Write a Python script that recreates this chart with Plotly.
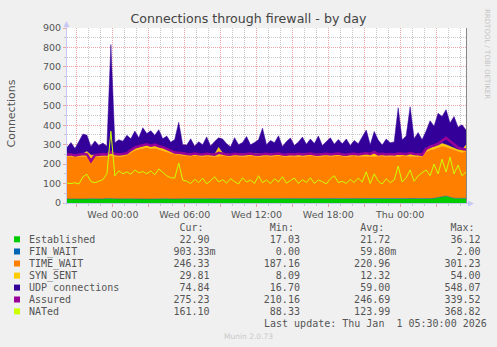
import plotly.graph_objects as go
import pandas as pd

# ---------------- data ----------------
times = pd.date_range("2025-12-30 20:10", periods=101, freq="20min")

established = [21, 22, 21, 20, 22, 21, 22, 21, 22, 21,
               23, 24, 22, 21, 22, 21, 22, 21, 22, 21,
               20, 21, 22, 21, 21, 22, 21, 20, 21, 22,
               21, 21, 22, 21, 20, 21, 22, 21, 21, 20,
               21, 22, 21, 21, 22, 21, 20, 21, 21, 22,
               21, 20, 21, 22, 21, 21, 20, 21, 22, 21,
               21, 22, 21, 20, 21, 22, 21, 21, 20, 21,
               22, 21, 21, 22, 21, 20, 21, 22, 21, 21,
               22, 21, 20, 21, 22, 21, 22, 23, 22, 21,
               22, 23, 24, 27, 33, 36, 30, 25, 24, 23,
               23]

fin_wait = [0, 0, 0, 0, 0, 0, 0, 0, 0, 0,
            0, 0, 0, 0, 0, 0, 0, 0, 0, 0,
            0, 0, 0, 0, 0, 0, 0, 0, 0, 0,
            1, 0, 0, 0, 0, 0, 0, 0, 0, 0,
            0, 0, 0, 0, 0, 0, 0, 0, 0, 0,
            0, 0, 0, 0, 0, 2, 0, 0, 0, 0,
            0, 0, 0, 0, 0, 0, 0, 0, 0, 0,
            0, 0, 0, 0, 0, 0, 0, 0, 0, 0,
            1, 0, 0, 0, 0, 0, 0, 0, 0, 0,
            0, 0, 0, 0, 0, 0, 0, 0, 0, 0,
            1]

time_wait = [217, 218, 215, 219, 219, 214, 210, 215, 216, 219,
             216, 218, 218, 217, 219, 223, 236, 249, 254, 259,
             264, 257, 260, 254, 249, 240, 234, 230, 225, 222,
             220, 219, 221, 220, 219, 221, 218, 217, 220, 223,
             219, 216, 221, 219, 217, 220, 223, 219, 217, 218,
             221, 219, 220, 221, 219, 215, 221, 219, 220, 218,
             220, 221, 219, 218, 219, 220, 218, 220, 223, 219,
             216, 220, 221, 217, 219, 223, 220, 216, 219, 221,
             216, 220, 220, 217, 220, 219, 217, 218, 218, 217,
             240, 249, 252, 257, 259, 252, 250, 247, 238, 235,
             244]

syn_sent = [12, 11, 12, 13, 12, 30, 14, 11, 12, 13,
            12, 25, 13, 12, 11, 12, 13, 12, 11, 12,
            13, 12, 11, 12, 13, 12, 14, 12, 11, 12,
            13, 12, 11, 12, 10, 12, 13, 12, 45, 14,
            12, 11, 12, 13, 12, 11, 12, 13, 12, 11,
            12, 13, 12, 11, 9, 12, 13, 12, 11, 12,
            13, 12, 11, 12, 13, 12, 11, 12, 13, 12,
            11, 12, 13, 12, 11, 12, 13, 28, 12, 11,
            12, 13, 12, 11, 12, 13, 12, 11, 12, 13,
            12, 11, 13, 12, 14, 12, 11, 13, 12, 14,
            30]

udp = [35, 60, 32, 68, 102, 83, 44, 72, 46, 55,
       41, 548, 57, 75, 66, 92, 59, 88, 48, 95,
       60, 82, 55, 90, 47, 70, 43, 64, 158, 44,
       43, 78, 38, 62, 51, 86, 40, 66, 49, 72,
       53, 40, 82, 47, 60, 90, 44, 58, 75, 134,
       46, 70, 57, 92, 42, 66, 80, 44, 61, 88,
       48, 74, 55, 95, 43, 62, 85, 49, 70, 53,
       80, 43, 67, 54, 88, 120, 46, 102, 72, 45,
       78, 56, 62, 241, 70, 92, 244, 78, 110, 74,
       96, 140, 106, 165, 139, 180, 120, 160, 116, 130,
       77]

assured = [248, 250, 245, 249, 252, 250, 215, 246, 249, 251,
           250, 262, 252, 249, 252, 256, 272, 285, 292, 298,
           302, 295, 300, 292, 287, 278, 268, 260, 258, 254,
           252, 250, 254, 251, 249, 253, 250, 248, 258, 253,
           250, 248, 253, 251, 249, 252, 254, 250, 248, 251,
           253, 249, 252, 254, 250, 248, 252, 250, 253, 249,
           252, 254, 250, 248, 251, 253, 249, 252, 254, 250,
           248, 252, 253, 249, 251, 256, 252, 262, 250, 253,
           249, 252, 250, 255, 253, 251, 257, 252, 251, 248,
           278, 290, 296, 305, 320, 335, 318, 300, 285, 278,
           275]

nated = [102, 100, 104, 98, 135, 148, 110, 104, 112, 120,
         150, 369, 140, 165, 150, 160, 148, 170, 155, 162,
         150, 165, 145, 175, 158, 140, 130, 128, 205, 118,
         112, 100, 122, 105, 128, 98, 115, 135, 108, 120,
         102, 125, 110, 98, 130, 108, 118, 100, 140, 105,
         118, 100, 125, 108, 135, 102, 115, 128, 100, 120,
         105, 130, 100, 118, 110, 98, 125, 140, 105, 112,
         100, 122, 105, 128, 108, 160, 100, 150, 112, 98,
         125, 105, 118, 190, 108, 130, 170, 112, 140, 155,
         170, 140, 200, 150, 225, 160, 235, 150, 195, 140,
         160]

labels = ["Established", "FIN_WAIT", "TIME_WAIT", "SYN_SENT",
          "UDP connections", "Assured", "NATed"]
colors = ["#00CC00", "#0066B3", "#FF8000", "#FFCC00",
          "#330099", "#990099", "#CCFF00"]
cur_vals = ["22.90", "903.33m", "246.33", "29.81", "74.84", "275.23", "161.10"]
min_vals = ["17.03", "0.00", "187.16", "8.09", "16.70", "210.16", "88.33"]
avg_vals = ["21.72", "59.80m", "220.96", "12.32", "59.00", "246.69", "123.99"]
max_vals = ["36.12", "2.00", "301.23", "54.00", "548.07", "339.52", "368.82"]

tick_times = ["2025-12-30 21:00", "2025-12-31 00:00", "2025-12-31 03:00",
              "2025-12-31 06:00", "2025-12-31 09:00", "2025-12-31 12:00",
              "2025-12-31 15:00", "2025-12-31 18:00", "2025-12-31 21:00",
              "2026-01-01 00:00", "2026-01-01 03:00"]
tick_text = ["", "Wed 00:00", "", "Wed 06:00", "", "Wed 12:00",
             "", "Wed 18:00", "", "Thu 00:00", ""]

title = "Connections through firewall - by day"
y_title = "Connections"
last_update = "Last update: Thu Jan  1 05:30:00 2026"

# ---------------- layout geometry ----------------
W, H = 497, 347
L, R, T, B = 67, 466, 28, 203


def px(x):
    return (x - L) / (R - L)


def py(y):
    return (B - y) / (B - T)


fig = go.Figure()

stacked = [established, fin_wait, time_wait, syn_sent, udp]
for name, vals, col in zip(labels[:5], stacked, colors[:5]):
    fig.add_trace(go.Scatter(x=times, y=vals, name=name, stackgroup="one",
                             mode="lines", line=dict(width=0.5, color=col),
                             fillcolor=col, hoverinfo="skip"))

fig.add_trace(go.Scatter(x=times, y=assured, name=labels[5], mode="lines",
                         line=dict(width=2.5, color=colors[5])))
fig.add_trace(go.Scatter(x=times, y=nated, name=labels[6], mode="lines",
                         line=dict(width=1, color=colors[6])))

MGRID = "#EAA4A4"
GRID = "#C8C8C8"
TXT = "#555555"
DASH = "1px,1px"

fig.update_layout(
    width=W, height=H,
    margin=dict(l=L, r=W - R, t=T, b=H - B),
    paper_bgcolor="#F0F0F0", plot_bgcolor="#FFFFFF",
    showlegend=False,
    title=dict(text=title, x=0.5, xref="container", xanchor="center",
               y=1 - 19 / H, yref="container", yanchor="middle",
               font=dict(family="DejaVu Sans", size=12.6, color="#444444")),
    xaxis=dict(
        type="date", range=[times[0], times[-1]],
        tickmode="array", tickvals=tick_times, ticktext=tick_text,
        showgrid=True, gridcolor=MGRID, griddash=DASH, gridwidth=1,
        ticks="outside", ticklen=3, tickcolor=MGRID,
        tickfont=dict(family="DejaVu Sans", size=9.5, color=TXT),
        showline=False, zeroline=False,
        minor=dict(dtick=3600000, tick0="2025-12-30 21:00", showgrid=True,
                   gridcolor=GRID, griddash=DASH, gridwidth=1,
                   ticks="outside", ticklen=2, tickcolor=GRID),
    ),
    yaxis=dict(
        range=[0, 900], dtick=100, tick0=0,
        showgrid=True, gridcolor=MGRID, griddash=DASH, gridwidth=1,
        ticks="outside", ticklen=3, tickcolor=MGRID,
        tickfont=dict(family="DejaVu Sans", size=9.5, color=TXT),
        showline=False, zeroline=False,
        minor=dict(dtick=50, showgrid=True, gridcolor=GRID, griddash=DASH,
                   gridwidth=1, ticks="outside", ticklen=2, tickcolor=GRID),
    ),
)

shapes = []
AX = "#C8C8F5"
# y axis with arrow
shapes.append(dict(type="line", xref="paper", yref="paper",
                   x0=px(66.5), x1=px(66.5), y0=py(205), y1=py(24),
                   line=dict(color=AX, width=1)))
shapes.append(dict(type="path", xref="paper", yref="paper",
                   path=f"M {px(63.5)} {py(27)} L {px(69.5)} {py(27)} L {px(66.5)} {py(21)} Z",
                   fillcolor=AX, line=dict(width=0)))
# x axis with arrow
shapes.append(dict(type="line", xref="paper", yref="paper",
                   x0=px(64), x1=px(470), y0=py(203.5), y1=py(203.5),
                   line=dict(color=AX, width=1)))
shapes.append(dict(type="path", xref="paper", yref="paper",
                   path=f"M {px(468)} {py(200.5)} L {px(468)} {py(206.5)} L {px(474)} {py(203.5)} Z",
                   fillcolor=AX, line=dict(width=0)))
# right border line
shapes.append(dict(type="line", xref="paper", yref="paper",
                   x0=px(466.5), x1=px(466.5), y0=py(203), y1=py(28),
                   line=dict(color="#888888", width=1)))

annotations = []
annotations.append(dict(text=y_title, xref="paper", yref="paper",
                        x=px(10.5), y=py(114), textangle=-90, showarrow=False,
                        xanchor="center", yanchor="middle",
                        font=dict(family="DejaVu Sans", size=11, color=TXT)))
annotations.append(dict(text="RRDTOOL / TOBI OETIKER", xref="paper", yref="paper",
                        x=px(487), y=py(54), textangle=90, showarrow=False,
                        xanchor="center", yanchor="middle",
                        font=dict(family="DejaVu Sans", size=7, color="#C4C4C4")))
annotations.append(dict(text="Munin 2.0.73", xref="paper", yref="paper",
                        x=px(248), y=py(336), showarrow=False,
                        xanchor="center", yanchor="middle",
                        font=dict(family="DejaVu Sans", size=7.5, color="#C8C8C8")))

NB = "\u00a0"
MONO = dict(family="DejaVu Sans Mono", size=10, color=TXT)


def field(v, width):
    if v.endswith("m"):
        return v[:-1].rjust(width) + "m"
    return v.rjust(width) + " "


header = " " * 25 + "Cur:" + " " * 11 + "Min:" + " " * 11 + "Avg:" + " " * 11 + "Max:"
annotations.append(dict(text=header.replace(" ", NB), xref="paper", yref="paper",
                        x=px(26.7), y=py(227.7), showarrow=False,
                        xanchor="left", yanchor="middle", font=MONO))

row_y = [239.3, 251.5, 263.5, 275.6, 287.6, 299.5, 311.4]
for i, name in enumerate(labels):
    row = (name.ljust(23) + field(cur_vals[i], 7) + field(min_vals[i], 14)
           + field(avg_vals[i], 14) + field(max_vals[i], 14))
    annotations.append(dict(text=row.replace(" ", NB), xref="paper", yref="paper",
                            x=px(26.7), y=py(row_y[i]), showarrow=False,
                            xanchor="left", yanchor="middle", font=MONO))
    shapes.append(dict(type="rect", xref="paper", yref="paper",
                       x0=px(14), x1=px(20), y0=py(row_y[i] + 3), y1=py(row_y[i] - 3),
                       fillcolor=colors[i], line=dict(width=0)))

annotations.append(dict(text=last_update.replace(" ", NB), xref="paper", yref="paper",
                        x=px(261.7), y=py(323.6), showarrow=False,
                        xanchor="left", yanchor="middle", font=MONO))

fig.update_layout(shapes=shapes, annotations=annotations)
fig.write_html("out.html")
